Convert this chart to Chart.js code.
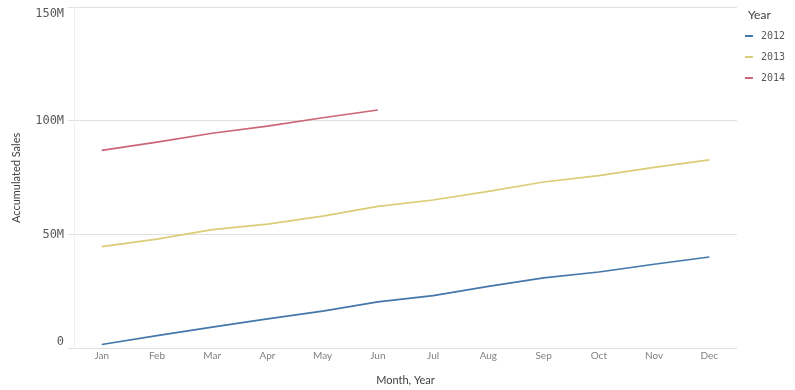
<!DOCTYPE html>
<html>
<head>
<meta charset="utf-8">
<script src="https://cdn.jsdelivr.net/npm/chart.js@4/dist/chart.umd.min.js"></script>
<style>
  html, body { margin: 0; padding: 0; background: #fff; }
  #wrap { width: 795px; height: 390px; }
</style>
</head>
<body>
<div id="wrap"><canvas id="c" width="795" height="390"></canvas></div>
<script>
const months = ['Jan','Feb','Mar','Apr','May','Jun','Jul','Aug','Sep','Oct','Nov','Dec'];
const years = ['2012','2013','2014'];
const sales2012 = [1.9, 5.8, 9.5, 13.1, 16.5, 20.6, 23.3, 27.4, 31.1, 33.7, 37.1, 40.3];
const sales2013 = [44.8, 48.1, 52.3, 54.7, 58.2, 62.5, 65.3, 69.1, 73.2, 76.0, 79.6, 82.9];
const sales2014 = [87.1, 90.7, 94.6, 97.7, 101.4, 104.8];
const yTickValues = [0, 50, 100, 150];
const yTickLabels = ['0', '50M', '100M', '150M'];
const legendTitle = 'Year';
const colors = ['#4477aa', '#ddcc77', '#cc6677'];

const toUnits = arr => arr.map(v => v * 1e6);
const series = [sales2012, sales2013, sales2014];

// small legend swatch: a short line, left-aligned in its box
function swatch(color) {
  const c = document.createElement('canvas');
  c.width = 14; c.height = 2;
  const g = c.getContext('2d');
  g.fillStyle = color;
  g.fillRect(0, 0, 8, 2);
  return c;
}

const titleFont = { family: 'Lato, "DejaVu Sans", sans-serif', size: 12 };

// draws the legend title aligned with the legend items (space is reserved by the built-in title)
const legendTitlePlugin = {
  id: 'legendTitleAlign',
  afterDraw(chart) {
    const lg = chart.legend;
    if (!lg || !lg.legendHitBoxes || !lg.legendHitBoxes.length) return;
    const ctx = chart.ctx;
    ctx.save();
    ctx.font = Chart.helpers.toFont(titleFont).string;
    ctx.fillStyle = '#404040';
    ctx.textAlign = 'left';
    ctx.textBaseline = 'middle';
    ctx.fillText(legendTitle, lg.legendHitBoxes[0].left, lg.top + 2 + titleFont.size / 2);
    ctx.restore();
  }
};

new Chart(document.getElementById('c'), {
  type: 'line',
  data: {
    labels: months,
    datasets: years.map((y, i) => ({
      label: y,
      data: toUnits(series[i]),
      borderColor: colors[i],
      backgroundColor: colors[i],
      borderWidth: 1.7,
      pointRadius: 0,
      pointHoverRadius: 0,
      pointStyle: swatch(colors[i]),
      tension: 0,
      fill: false
    }))
  },
  plugins: [legendTitlePlugin],
  options: {
    responsive: false,
    animation: false,
    layout: { padding: { top: 7, right: 0, bottom: 3, left: 10 } },
    plugins: {
      tooltip: { enabled: false },
      legend: {
        position: 'right',
        align: 'start',
        title: {
          display: true,
          text: legendTitle,
          position: 'start',
          color: 'rgba(0,0,0,0)',
          font: titleFont,
          padding: { top: 2, bottom: -3 }
        },
        labels: {
          usePointStyle: true,
          pointStyleWidth: 8,
          boxWidth: 8,
          boxHeight: 8,
          padding: 11,
          color: '#595959',
          font: { family: '"DejaVu Sans Mono", monospace', size: 10 }
        }
      }
    },
    scales: {
      x: {
        offset: true,
        grid: { display: false, drawTicks: false },
        border: { display: false },
        ticks: {
          color: '#808080',
          padding: 1,
          maxRotation: 0,
          font: { family: 'Lato, "DejaVu Sans", sans-serif', size: 10 }
        },
        title: {
          display: true,
          text: 'Month, Year',
          color: '#404040',
          font: { family: 'Lato, "DejaVu Sans", sans-serif', size: 11 },
          padding: { top: 11, bottom: 0 }
        }
      },
      y: {
        min: 0,
        max: 150e6,
        afterBuildTicks: axis => { axis.ticks = yTickValues.map(v => ({ value: v * 1e6 })); },
        afterFit: scale => { scale.paddingTop = 0; scale.paddingBottom = 0; },
        grid: { color: '#e0e0e0', lineWidth: 1, tickLength: 6, drawTicks: true },
        border: { display: true, color: '#f0f0f0' },
        ticks: {
          color: '#595959',
          padding: 4,
          font: { family: '"DejaVu Sans Mono", monospace', size: 12 },
          callback: function (value) {
            const i = yTickValues.indexOf(value / 1e6);
            if (i < 0) return '';
            // keep the end labels inside the plot, as in the original
            if (i === 0) return [yTickLabels[i], ''];
            if (i === yTickValues.length - 1) return ['', yTickLabels[i]];
            return yTickLabels[i];
          }
        },
        title: {
          display: true,
          text: 'Accumulated Sales',
          color: '#404040',
          font: { family: 'Lato, "DejaVu Sans", sans-serif', size: 11 },
          padding: { top: 0, bottom: 8 }
        }
      }
    }
  }
});
</script>
</body>
</html>
